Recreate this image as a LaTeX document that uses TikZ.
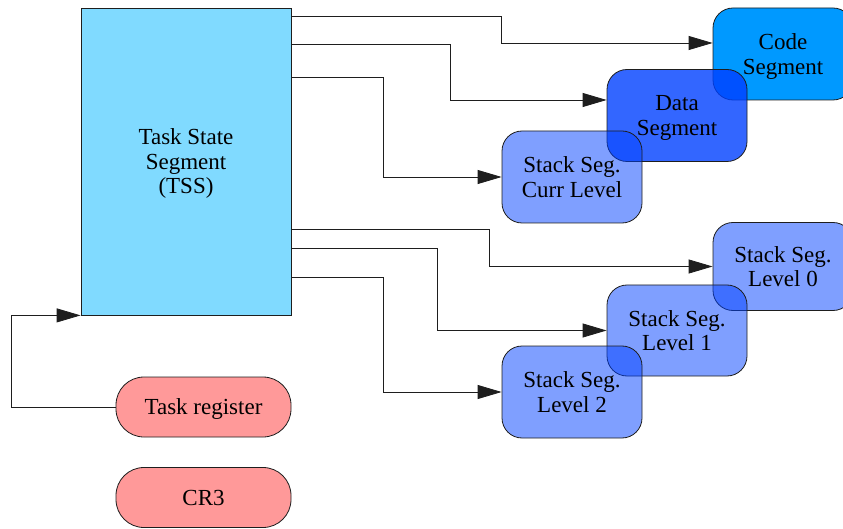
\documentclass[tikz,border=0pt]{standalone}
\usepackage{fontspec}
\setmainfont{Liberation Serif}
\usetikzlibrary{arrows.meta}

\definecolor{tssfill}{RGB}{128,218,255}
\definecolor{codefill}{RGB}{0,153,255}
\definecolor{segblue}{RGB}{0,64,255}
\definecolor{regfill}{RGB}{255,153,153}
\definecolor{edge}{RGB}{30,30,30}

\begin{document}
\begin{tikzpicture}[x=1pt,y=-1pt,
  every node/.style={font=\fontsize{23}{24.5}\selectfont, align=center, inner sep=0pt, text=black, text depth=0pt},
  tssbox/.style={draw=edge, line width=0.8pt, fill=tssfill, minimum width=210pt, minimum height=307pt},
  segbox/.style={draw=edge, line width=0.8pt, rounded corners=20pt, minimum width=140pt, minimum height=92pt},
  codebox/.style={segbox, fill=codefill},
  database/.style={segbox, fill=segblue, fill opacity=0.8, text opacity=1},
  stackbox/.style={segbox, fill=segblue, fill opacity=0.5, text opacity=1},
  regbox/.style={draw=edge, line width=0.8pt, rounded corners=28pt, fill=regfill, minimum width=175pt, minimum height=60pt},
  arr/.style={draw=edge, line width=0.8pt, -{Triangle[length=24pt,width=14pt]}}
]
\useasboundingbox (0,0) rectangle (843,529);

% Task state segment and registers
\node[tssbox] (tss) at (186,161.5) {Task State\\Segment\\(TSS)};
\node[regbox] (treg) at (203.5,407) {Task register};
\node[regbox] (cr3) at (203.5,497.5) {CR3};

% Code, data and current stack segments
\node[codebox] (code) at (783,54) {Code\\Segment};
\node[database] (data) at (677,115.5) {Data\\Segment};
\node[stackbox] (curr) at (572,177) {Stack Seg.\\Curr Level};

% Per-level stack segments
\node[stackbox, minimum height=88pt] (lv0) at (783,266.5) {Stack Seg.\\Level 0};
\node[stackbox, minimum height=91pt] (lv1) at (677,330.5) {Stack Seg.\\Level 1};
\node[stackbox] (lv2) at (572,392) {Stack Seg.\\Level 2};

% TSS pointers to the segments
\draw[arr] (tss.east |- 0,16) -- (501,16) |- (code.west |- 0,43);
\draw[arr] (tss.east |- 0,44) -- (450,44) |- (data.west |- 0,100);
\draw[arr] (tss.east |- 0,77) -- (383,77) |- (curr.west);
\draw[arr] (tss.east |- 0,229) -- (489,229) |- (lv0.west);
\draw[arr] (tss.east |- 0,248) -- (437,248) |- (lv1.west);
\draw[arr] (tss.east |- 0,277) -- (383,277) |- (lv2.west);

% Task register selects the TSS
\draw[arr] (treg.west) -- (11,407) |- (tss.south west);
\end{tikzpicture}
\end{document}
